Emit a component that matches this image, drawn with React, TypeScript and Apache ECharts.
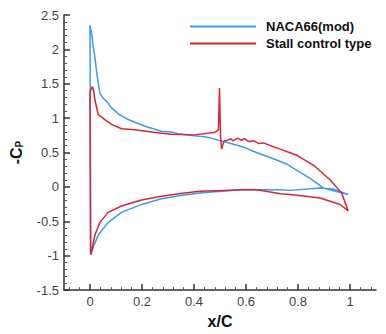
import React, { useEffect, useRef } from "react";
import * as echarts from "echarts";

const seriesNames = ["NACA66(mod)", "Stall control type"];

// [x/C, -Cp] pairs, leading edge -> trailing edge along suction side
const naca66Upper: number[][] = [
  [0.003, -0.99], [0.0, 2.35], [0.007, 2.21], [0.012, 2.05], [0.019, 1.88], [0.028, 1.6],
  [0.038, 1.36], [0.051, 1.29], [0.065, 1.24], [0.083, 1.15], [0.11, 1.06], [0.147, 0.98],
  [0.18, 0.93], [0.21, 0.885], [0.24, 0.85], [0.274, 0.81], [0.313, 0.8], [0.338, 0.775],
  [0.4, 0.745], [0.44, 0.73], [0.465, 0.71], [0.503, 0.67], [0.528, 0.645], [0.592, 0.576],
  [0.63, 0.515], [0.656, 0.48], [0.72, 0.387], [0.758, 0.33], [0.783, 0.27], [0.847, 0.125],
  [0.898, -0.017], [0.94, -0.06], [0.993, -0.11],
];
// trailing edge -> leading edge along pressure side
const naca66Lower: number[][] = [
  [0.94, -0.035], [0.885, -0.017], [0.77, -0.05], [0.73, -0.04], [0.58, -0.04],
  [0.42, -0.088], [0.35, -0.125], [0.274, -0.173], [0.198, -0.254], [0.121, -0.37],
  [0.07, -0.515], [0.032, -0.7], [0.015, -0.85], [0.004, -0.99],
];
const stallUpper: number[][] = [
  [0.002, -0.97], [0.0, 1.38], [0.009, 1.46], [0.014, 1.4], [0.019, 1.26], [0.032, 1.05],
  [0.057, 0.98], [0.083, 0.91], [0.121, 0.846], [0.172, 0.83], [0.236, 0.8], [0.313, 0.765],
  [0.4, 0.757], [0.478, 0.79], [0.494, 0.83], [0.498, 1.44], [0.502, 0.75], [0.506, 0.55],
  [0.516, 0.67], [0.53, 0.68], [0.541, 0.7], [0.55, 0.67], [0.567, 0.71], [0.58, 0.68],
  [0.595, 0.7], [0.61, 0.66], [0.63, 0.67], [0.65, 0.63], [0.667, 0.64], [0.694, 0.6],
  [0.732, 0.55], [0.764, 0.505], [0.796, 0.46], [0.86, 0.315], [0.924, 0.1], [0.968, -0.09],
  [0.993, -0.35],
];
const stallLower: number[][] = [
  [0.962, -0.255], [0.885, -0.16], [0.796, -0.12], [0.77, -0.11], [0.732, -0.1],
  [0.643, -0.04], [0.58, -0.04], [0.516, -0.05], [0.42, -0.064], [0.35, -0.097],
  [0.274, -0.135], [0.198, -0.19], [0.121, -0.277], [0.07, -0.37], [0.038, -0.515],
  [0.019, -0.7], [0.004, -0.965],
];

const xMajorTicks = [0, 0.2, 0.4, 0.6, 0.8, 1];
const xMinorTicks = [
  -0.08, -0.04, 0.04, 0.08, 0.12, 0.16, 0.24, 0.28, 0.32, 0.36, 0.44, 0.48, 0.52, 0.56,
  0.64, 0.68, 0.72, 0.76, 0.84, 0.88, 0.92, 0.96, 1.04, 1.08,
];

const FONT = "'Liberation Sans', Arial, sans-serif";
const BLUE = "#3c9af2";
const RED = "#d8262f";

export default function App() {
  const ref = useRef<HTMLDivElement>(null);
  useEffect(() => {
    if (!ref.current) return;
    const chart = echarts.init(ref.current, null, { renderer: "svg" });
    const axisLineStyle = { color: "#333", width: 1.5 };
    chart.setOption({
      animation: false,
      backgroundColor: "#fff",
      textStyle: { fontFamily: FONT },
      grid: { left: 62, right: 10, top: 15, bottom: 38 },
      legend: {
        orient: "vertical",
        left: 185,
        top: 14,
        itemWidth: 66,
        itemHeight: 2,
        itemGap: 2,
        icon: "rect",
        data: seriesNames,
        textStyle: {
          fontFamily: FONT,
          fontSize: 13,
          fontWeight: "bold",
          color: "#111",
          padding: [0, 0, 0, 5],
          lineHeight: 15,
        },
      },
      xAxis: [
        {
          type: "value",
          min: -0.1,
          max: 1.1,
          name: "x/C",
          nameLocation: "middle",
          nameGap: 22,
          nameTextStyle: { fontFamily: FONT, fontSize: 16, fontWeight: "bold", color: "#111" },
          axisLine: { show: true, onZero: false, lineStyle: axisLineStyle },
          axisTick: { show: true, inside: true, length: 6, customValues: xMajorTicks, lineStyle: axisLineStyle },
          axisLabel: {
            customValues: xMajorTicks,
            margin: 5,
            fontSize: 13,
            color: "#444",
            fontFamily: FONT,
          },
          splitLine: { show: false },
        },
        {
          type: "value",
          min: -0.1,
          max: 1.1,
          position: "bottom",
          axisLine: { show: false, onZero: false },
          axisTick: { show: true, inside: true, length: 3, customValues: xMinorTicks, lineStyle: { color: "#555", width: 1 } },
          axisLabel: { show: false },
          splitLine: { show: false },
        },
      ],
      yAxis: {
        type: "value",
        min: -1.5,
        max: 2.5,
        interval: 0.5,
        name: "{a|-C}{b|P}",
        nameLocation: "middle",
        nameRotate: 90,
        nameGap: 40,
        nameTextStyle: {
          rich: {
            a: { fontFamily: FONT, fontSize: 16, fontWeight: "bold", color: "#111" },
            b: { fontFamily: FONT, fontSize: 10, fontWeight: "bold", color: "#111", verticalAlign: "bottom", padding: [6, 0, 0, 0] },
          },
        },
        axisLine: { show: true, onZero: false, lineStyle: axisLineStyle },
        axisTick: { show: true, inside: true, length: 6, lineStyle: axisLineStyle },
        minorTick: { show: true, splitNumber: 5, length: 3, lineStyle: { color: "#555", width: 1 } },
        axisLabel: { margin: 5, fontSize: 13, color: "#444", fontFamily: FONT },
        splitLine: { show: false },
        minorSplitLine: { show: false },
      },
      series: [
        {
          name: seriesNames[0],
          type: "line",
          data: [...naca66Upper, ...naca66Lower],
          showSymbol: false,
          symbol: "none",
          lineStyle: { color: BLUE, width: 1.5 },
          itemStyle: { color: BLUE },
        },
        {
          name: seriesNames[1],
          type: "line",
          data: [...stallUpper, ...stallLower],
          showSymbol: false,
          symbol: "none",
          lineStyle: { color: RED, width: 1.5 },
          itemStyle: { color: RED },
        },
      ],
    });
    return () => chart.dispose();
  }, []);
  return <div ref={ref} style={{ width: 386, height: 334, position: "absolute", left: 0, top: 0 }} />;
}
